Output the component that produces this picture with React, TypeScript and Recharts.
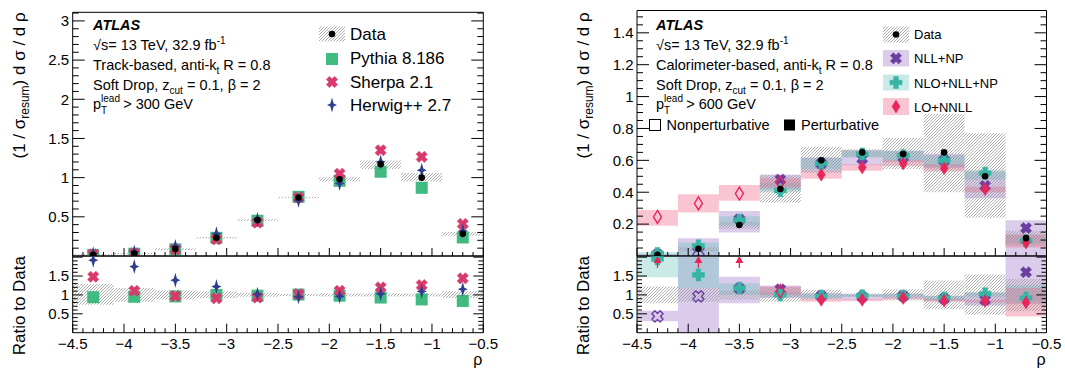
import React from "react"
import { ComposedChart, Scatter, XAxis, YAxis, ReferenceArea } from "recharts"

const FONT = "'Liberation Sans', Arial, Helvetica, sans-serif"

// rho bins
const binCenters = [-4.3, -3.9, -3.5, -3.1, -2.7, -2.3, -1.9, -1.5, -1.1, -0.7]
const binHalf = 0.2

// ---- left panel: track-based, pT > 300 GeV
const trackData = [0.015, 0.03, 0.088, 0.232, 0.458, 0.747, 0.98, 1.17, 1.0, 0.283]
const trackDataLo = [0.005, 0.022, 0.078, 0.222, 0.448, 0.737, 0.955, 1.11, 0.95, 0.26]
const trackDataHi = [0.025, 0.038, 0.098, 0.242, 0.468, 0.757, 1.005, 1.22, 1.06, 0.305]
const pythiaMain = [0.014, 0.029, 0.085, 0.232, 0.45, 0.755, 0.96, 1.075, 0.87, 0.237]
const sherpaMain = [0.022, 0.034, 0.085, 0.212, 0.425, 0.747, 1.05, 1.35, 1.265, 0.41]
const herwigMain = [0.028, 0.052, 0.122, 0.283, 0.467, 0.71, 0.925, 1.2, 1.095, 0.32]
const trackRatioLo = [0.74, 0.82, 0.88, 0.91, 0.95, 0.97, 0.96, 0.96, 0.96, 0.92]
const trackRatioHi = [1.29, 1.18, 1.12, 1.1, 1.06, 1.03, 1.04, 1.04, 1.04, 1.1]
const pythiaRatio = [0.94, 0.95, 0.96, 1.0, 0.98, 1.01, 0.98, 0.93, 0.88, 0.84]
const sherpaRatio = [1.48, 1.11, 0.97, 0.91, 0.93, 1.02, 1.11, 1.2, 1.26, 1.44]
const herwigRatio = [1.92, 1.75, 1.39, 1.22, 1.02, 0.95, 0.96, 1.03, 1.09, 1.15]

// ---- right panel: calorimeter-based, pT > 600 GeV
const caloData = [0.008, 0.045, 0.194, 0.42, 0.6, 0.65, 0.64, 0.65, 0.5, 0.112]
const caloDataLo = [0.004, 0.03, 0.17, 0.335, 0.52, 0.62, 0.545, 0.4, 0.24, 0.064]
const caloDataHi = [0.012, 0.055, 0.215, 0.51, 0.685, 0.67, 0.74, 0.89, 0.77, 0.158]
const nllMain = [0.006, 0.028, 0.23, 0.48, 0.58, 0.61, 0.62, 0.6, 0.44, 0.175]
const nllLo = [0, 0, 0.147, 0.415, 0.53, 0.57, 0.59, 0.55, 0.363, 0]
const nllHi = [0.012, 0.112, 0.283, 0.51, 0.62, 0.665, 0.66, 0.64, 0.53, 0.225]
const nloMain = [0.016, 0.064, 0.225, 0.41, 0.58, 0.64, 0.63, 0.6, 0.52, 0.095]
const nloLo = [0.005, 0, 0.19, 0.4, 0.545, 0.62, 0.6, 0.56, 0.48, 0.08]
const nloHi = [0.025, 0.085, 0.25, 0.46, 0.615, 0.66, 0.66, 0.63, 0.54, 0.13]
const nnllMain = [0.245, 0.33, 0.392, 0.46, 0.51, 0.555, 0.58, 0.55, 0.42, 0.085]
const nnllLo = [0.19, 0.273, 0.346, 0.43, 0.485, 0.535, 0.565, 0.53, 0.4, 0.053]
const nnllHi = [0.288, 0.388, 0.446, 0.49, 0.535, 0.575, 0.6, 0.575, 0.434, 0.137]
const nllOpen = [true, true, false, false, false, false, false, false, false, false]
const nnllOpen = [true, true, true, true, false, false, false, false, false, false]

const caloRatioLo = [0.78, 0.82, 0.88, 0.82, 0.87, 0.95, 0.85, 0.62, 0.48, 0.57]
const caloRatioHi = [1.22, 1.18, 1.12, 1.2, 1.14, 1.04, 1.15, 1.38, 1.54, 1.42]
const nllRatio = [0.43, 0.96, 1.17, 1.15, 0.97, 0.95, 0.97, 0.9, 0.87, 1.6]
const nllRatioLo = [0.3, 0, 0.78, 0.92, 0.9, 0.88, 0.92, 0.85, 0.72, 0.75]
const nllRatioHi = [0.58, 2.03, 1.48, 1.25, 1.05, 1.02, 1.04, 0.98, 1.06, 2.03]
const nloRatio = [1.95, 1.53, 1.18, 1.0, 0.97, 0.98, 0.97, 0.92, 1.03, 0.92]
const nloRatioLo = [1.47, 1.18, 1.0, 0.95, 0.92, 0.95, 0.95, 0.86, 0.96, 0.8]
const nloRatioHi = [2.03, 2.03, 1.31, 1.08, 1.02, 1.02, 1.03, 0.97, 1.08, 1.25]
const nnllRatio = [1.9, 1.9, 1.9, 1.1, 0.87, 0.87, 0.92, 0.85, 0.84, 0.8]
const nnllRatioOff = [true, true, true, false, false, false, false, false, false, false]
const nnllRatioLo = [null, null, null, 1.0, 0.82, 0.83, 0.88, 0.82, 0.8, 0.43]
const nnllRatioHi = [null, null, null, 1.22, 0.9, 0.89, 0.94, 0.89, 0.87, 1.18]

const C = {
  green: "#3fbb82",
  sherpa: "#d83b6b",
  herwig: "#2e3d8f",
  purple: "#6b3fa0",
  teal: "#36b5a5",
  pink: "#e8265a",
  purpleBand: "rgba(150,110,195,0.35)",
  tealBand: "rgba(90,190,185,0.32)",
  pinkBand: "rgba(240,110,145,0.4)",
}

const range = (a: number, b: number, step: number) => {
  const n = Math.round((b - a) / step)
  return Array.from({ length: n + 1 }, (_, i) => +(a + i * step).toFixed(4))
}
const xTicks = range(-4.5, -0.5, 0.1)
const xLabels = range(-4.5, -0.5, 0.5)
const leftYTicks = range(0.1, 3.1, 0.1)
const leftYLabels = [0.5, 1, 1.5, 2, 2.5, 3]
const rightYTicks = range(0.05, 1.5, 0.05)
const rightYLabels = [0.2, 0.4, 0.6, 0.8, 1, 1.2, 1.4]
const ratioYTicks = range(0.1, 2.0, 0.1)
const ratioYLabels = [0.5, 1, 1.5]

const fmt = (v: number) => String(+v.toFixed(2)).replace("-", "\u2212")

function makeTick(side: string, major: number, majorLen: number, minorLen: number, labels: number[] | null) {
  return (p: any) => {
    const v = p.payload.value
    const x = p.x
    const y = p.y
    const isMajor = Math.abs(v / major - Math.round(v / major)) < 1e-6
    const len = isMajor ? majorLen : minorLen
    let x2 = x
    let y2 = y
    if (side === "left") x2 = x + len
    if (side === "right") x2 = x - len
    if (side === "bottom") y2 = y - len
    if (side === "top") y2 = y + len
    const show = labels && labels.some((l) => Math.abs(l - v) < 1e-6)
    return (
      <g>
        <line x1={x} y1={y} x2={x2} y2={y2} stroke="#000" strokeWidth={1} />
        {show && side === "left" && (
          <text x={x - 3.5} y={y + 5.3} textAnchor="end" fontSize={15} fontFamily={FONT} fill="#000">
            {fmt(v)}
          </text>
        )}
        {show && side === "bottom" && (
          <text x={x} y={y + 16} textAnchor="middle" fontSize={15} fontFamily={FONT} fill="#000">
            {fmt(v)}
          </text>
        )}
      </g>
    )
  }
}

function frameAxes(o: {
  yDomain: number[]
  yTicks: number[]
  yMajor: number
  yLen: number[]
  yLabels: number[]
  xLen: number[]
  xShow: boolean
}) {
  const common = { tickSize: 0, tickMargin: 0, tickLine: false, interval: 0 as const, allowDataOverflow: true, axisLine: { stroke: "#000", strokeWidth: 1 } }
  return [
    <XAxis key="xb" xAxisId={0} type="number" dataKey="x" domain={[-4.5, -0.5]} ticks={xTicks} height={1} {...common} tick={makeTick("bottom", 0.5, o.xLen[0], o.xLen[1], o.xShow ? xLabels : null)} />,
    <XAxis key="xt" xAxisId="top" orientation="top" type="number" domain={[-4.5, -0.5]} ticks={xTicks} height={1} {...common} tick={makeTick("top", 0.5, o.xLen[0], o.xLen[1], null)} />,
    <YAxis key="yl" yAxisId={0} type="number" dataKey="y" domain={o.yDomain} ticks={o.yTicks} width={1} {...common} tick={makeTick("left", o.yMajor, o.yLen[0], o.yLen[1], o.yLabels)} />,
    <YAxis key="yr" yAxisId="right" orientation="right" type="number" domain={o.yDomain} ticks={o.yTicks} width={1} {...common} tick={makeTick("right", o.yMajor, o.yLen[0], o.yLen[1], null)} />,
  ]
}

function xPoly(cx: number, cy: number, L: number, a: number, rot: boolean) {
  const base = [[a, L], [a, a], [L, a], [L, -a], [a, -a], [a, -L], [-a, -L], [-a, -a], [-L, -a], [-L, a], [-a, a], [-a, L]]
  const c = Math.SQRT1_2
  return base
    .map(([px, py]) => (rot ? [(px - py) * c, (px + py) * c] : [px, py]))
    .map(([px, py]) => `${cx + px},${cy + py}`)
    .join(" ")
}

function Marker({ kind, cx, cy, color, open }: { kind: string; cx: number; cy: number; color: string; open?: boolean }) {
  if (cx == null || cy == null) return null
  switch (kind) {
    case "dot":
      return <circle cx={cx} cy={cy} r={3.3} fill="#000" />
    case "square":
      return <rect x={cx - 6} y={cy - 6} width={12} height={12} fill={color} />
    case "x":
      return <polygon points={xPoly(cx, cy, 5.8, 2.1, true)} fill={open ? "none" : color} stroke={color} strokeWidth={open ? 1.4 : 0.6} strokeLinejoin="round" />
    case "plus":
      return <polygon points={xPoly(cx, cy, 6, 2.3, false)} fill={color} stroke={color} strokeWidth={0.6} strokeLinejoin="round" />
    case "star4":
      return (
        <polygon
          points={[[0, -7.5], [1.6, -1.6], [5, 0], [1.6, 1.6], [0, 7.5], [-1.6, 1.6], [-5, 0], [-1.6, -1.6]].map(([px, py]) => `${cx + px},${cy + py}`).join(" ")}
          fill={color}
        />
      )
    case "diamond":
      return (
        <polygon
          points={`${cx},${cy - 6.5} ${cx + 4},${cy} ${cx},${cy + 6.5} ${cx - 4},${cy}`}
          fill={open ? "none" : color}
          stroke={color}
          strokeWidth={open ? 1.4 : 0.5}
        />
      )
    case "arrow":
      return (
        <g>
          <line x1={cx} y1={cy} x2={cx} y2={cy + 7} stroke={color} strokeWidth={1.3} />
          <polygon points={`${cx},${cy - 5} ${cx + 4},${cy + 2} ${cx - 4},${cy + 2}`} fill={color} />
        </g>
      )
  }
  return null
}

const rows = (vals: number[], open?: boolean[], off?: boolean[]) =>
  binCenters.map((x, i) => ({ x, y: vals[i], open: open ? open[i] : false, off: off ? off[i] : false }))

function series(vals: number[], kind: string, color: string, open?: boolean[], off?: boolean[]) {
  return (
    <Scatter
      key={kind + color + vals[0]}
      data={rows(vals, open, off)}
      isAnimationActive={false}
      shape={(p: any) => <Marker kind={p.payload.off ? "arrow" : kind} cx={p.cx} cy={p.cy} color={color} open={p.payload.open} />}
    />
  )
}

function bands(lo: (number | null)[], hi: (number | null)[], fill: string, tag: string) {
  return binCenters.map((c, i) =>
    lo[i] == null || hi[i] == null ? null : (
      <ReferenceArea key={tag + i} x1={c - binHalf} x2={c + binHalf} y1={lo[i] as number} y2={hi[i] as number} fill={fill} fillOpacity={1} stroke="none" ifOverflow="hidden" />
    )
  )
}

// geometry (page pixels)
const L = { left: 72.7, right: 483.3, top: 12.3 }
const R = { left: 637, right: 1046.5, top: 10.5 }
const SPLIT = 256
const RATIO_H = 76.7
const RATIO_SVG_H = 114

export default function App() {
  // axes take 1px each, so margins leave room for them
  const mainL = { top: L.top - 1, left: L.left - 1, right: 505 - L.right - 1, bottom: 0 }
  const ratioL = { top: 0, left: L.left - 1, right: 505 - L.right - 1, bottom: RATIO_SVG_H - 1 - RATIO_H - 1 }
  const mainR = { top: R.top - 1, left: R.left - 530 - 1, right: 535 - (R.right - 530) - 1, bottom: 0 }
  const ratioR = { top: 0, left: R.left - 530 - 1, right: 535 - (R.right - 530) - 1, bottom: RATIO_SVG_H - 1 - RATIO_H - 1 }
  const txt = { fontFamily: FONT, fill: "#000" }

  return (
    <div style={{ position: "absolute", left: 0, top: 0, width: 1065, height: 369, background: "#fff", fontFamily: FONT }}>
      {/* left main */}
      <div style={{ position: "absolute", left: 0, top: 0 }}>
        <ComposedChart width={505} height={SPLIT + 1} margin={mainL}>
          {frameAxes({ yDomain: [0, 3.11], yTicks: leftYTicks, yMajor: 0.5, yLen: [12, 6], yLabels: leftYLabels, xLen: [8, 4], xShow: false })}
          {bands(trackDataLo, trackDataHi, "url(#hatch)", "ld")}
          {series(pythiaMain, "square", C.green)}
          {series(sherpaMain, "x", C.sherpa)}
          {series(herwigMain, "star4", C.herwig)}
          {series(trackData, "dot", "#000")}
        </ComposedChart>
      </div>
      {/* left ratio */}
      <div style={{ position: "absolute", left: 0, top: SPLIT - 1 }}>
        <ComposedChart width={505} height={RATIO_SVG_H} margin={ratioL}>
          {frameAxes({ yDomain: [0, 2.03], yTicks: ratioYTicks, yMajor: 0.5, yLen: [10, 5], yLabels: ratioYLabels, xLen: [9, 4.5], xShow: true })}
          {bands(trackRatioLo, trackRatioHi, "url(#hatch)", "lr")}
          {series(pythiaRatio, "square", C.green)}
          {series(sherpaRatio, "x", C.sherpa)}
          {series(herwigRatio, "star4", C.herwig)}
        </ComposedChart>
      </div>
      {/* right main */}
      <div style={{ position: "absolute", left: 530, top: 0 }}>
        <ComposedChart width={535} height={SPLIT + 1} margin={mainR}>
          {frameAxes({ yDomain: [0, 1.54], yTicks: rightYTicks, yMajor: 0.2, yLen: [12, 6], yLabels: rightYLabels, xLen: [8, 4], xShow: false })}
          {bands(nllLo, nllHi, C.purpleBand, "rp")}
          {bands(nloLo, nloHi, C.tealBand, "rt")}
          {bands(nnllLo, nnllHi, C.pinkBand, "rk")}
          {bands(caloDataLo, caloDataHi, "url(#hatch)", "rd")}
          {series(nllMain, "x", C.purple, nllOpen)}
          {series(nloMain, "plus", C.teal)}
          {series(nnllMain, "diamond", C.pink, nnllOpen)}
          {series(caloData, "dot", "#000")}
        </ComposedChart>
      </div>
      {/* right ratio */}
      <div style={{ position: "absolute", left: 530, top: SPLIT - 1 }}>
        <ComposedChart width={535} height={RATIO_SVG_H} margin={ratioR}>
          {frameAxes({ yDomain: [0, 2.03], yTicks: ratioYTicks, yMajor: 0.5, yLen: [10, 5], yLabels: ratioYLabels, xLen: [9, 4.5], xShow: true })}
          {bands(nllRatioLo, nllRatioHi, C.purpleBand, "qp")}
          {bands(nloRatioLo, nloRatioHi, C.tealBand, "qt")}
          {bands(nnllRatioLo, nnllRatioHi, C.pinkBand, "qk")}
          {bands(caloRatioLo, caloRatioHi, "url(#hatch)", "qd")}
          {series(nllRatio, "x", C.purple, nllOpen)}
          {series(nloRatio, "plus", C.teal)}
          {series(nnllRatio, "diamond", C.pink, nnllOpen, nnllRatioOff)}
        </ComposedChart>
      </div>

      {/* labels, legends */}
      <svg width={1065} height={369} style={{ position: "absolute", left: 0, top: 0, pointerEvents: "none" }}>
        <defs>
          <pattern id="hatch" width={3} height={3} patternUnits="userSpaceOnUse">
            <path d="M-1,1 L1,-1 M0,3 L3,0 M2,4 L4,2" stroke="#999" strokeWidth={0.8} />
          </pattern>
        </defs>

        {/* axis titles */}
        <text transform={`translate(24.5,${L.top}) rotate(-90)`} textAnchor="end" fontSize={17} {...txt}>
          (1 / σ<tspan dy={4} fontSize={12}>resum</tspan><tspan dy={-4}>) d σ / d ρ</tspan>
        </text>
        <text transform={`translate(24.5,${SPLIT}) rotate(-90)`} textAnchor="end" fontSize={17} {...txt}>Ratio to Data</text>
        <text x={L.right - 1} y={365} textAnchor="end" fontSize={16} {...txt}>ρ</text>
        <text transform={`translate(588.5,${L.top}) rotate(-90)`} textAnchor="end" fontSize={17} {...txt}>
          (1 / σ<tspan dy={4} fontSize={12}>resum</tspan><tspan dy={-4}>) d σ / d ρ</tspan>
        </text>
        <text transform={`translate(588.5,${SPLIT}) rotate(-90)`} textAnchor="end" fontSize={17} {...txt}>Ratio to Data</text>
        <text x={R.right - 1} y={365} textAnchor="end" fontSize={16} {...txt}>ρ</text>

        {/* left annotations */}
        <text x={93} y={30} fontSize={14.5} fontWeight="bold" fontStyle="italic" {...txt}>ATLAS</text>
        <text x={93} y={50} fontSize={14.5} {...txt}>√s= 13 TeV, 32.9 fb<tspan dy={-6} fontSize={10}>-1</tspan></text>
        <text x={93} y={70} fontSize={14.5} {...txt}>Track-based, anti-k<tspan dy={4} fontSize={10}>t</tspan><tspan dy={-4}> R = 0.8</tspan></text>
        <text x={93} y={90} fontSize={14.5} {...txt}>Soft Drop, z<tspan dy={4} fontSize={10}>cut</tspan><tspan dy={-4}> = 0.1, β = 2</tspan></text>
        <text x={93} y={109} fontSize={14.5} {...txt}>p<tspan dy={-7} fontSize={10}>lead</tspan><tspan dx={-18.9} dy={12} fontSize={10}>T</tspan><tspan dx={16} dy={-5}>&gt; 300 GeV</tspan></text>

        {/* left legend */}
        <rect x={319} y={26.5} width={26} height={15} fill="url(#hatch)" />
        <Marker kind="dot" cx={332} cy={34} color="#000" />
        <text x={350} y={39.5} fontSize={17} {...txt}>Data</text>
        <Marker kind="square" cx={332} cy={59} color={C.green} />
        <text x={350} y={64} fontSize={17} {...txt}>Pythia 8.186</text>
        <Marker kind="x" cx={332} cy={82} color={C.sherpa} />
        <text x={350} y={87.5} fontSize={17} {...txt}>Sherpa 2.1</text>
        <Marker kind="star4" cx={332} cy={105} color={C.herwig} />
        <text x={350} y={110.5} fontSize={17} {...txt}>Herwig++ 2.7</text>

        {/* right annotations */}
        <text x={656} y={30} fontSize={14.5} fontWeight="bold" fontStyle="italic" {...txt}>ATLAS</text>
        <text x={656} y={50} fontSize={14.5} {...txt}>√s= 13 TeV, 32.9 fb<tspan dy={-6} fontSize={10}>-1</tspan></text>
        <text x={656} y={70} fontSize={14.5} {...txt}>Calorimeter-based, anti-k<tspan dy={4} fontSize={10}>t</tspan><tspan dy={-4}> R = 0.8</tspan></text>
        <text x={656} y={90} fontSize={14.5} {...txt}>Soft Drop, z<tspan dy={4} fontSize={10}>cut</tspan><tspan dy={-4}> = 0.1, β = 2</tspan></text>
        <text x={656} y={109} fontSize={14.5} {...txt}>p<tspan dy={-7} fontSize={10}>lead</tspan><tspan dx={-18.9} dy={12} fontSize={10}>T</tspan><tspan dx={16} dy={-5}>&gt; 600 GeV</tspan></text>
        <rect x={649.5} y={119.5} width={11} height={11} fill="none" stroke="#000" strokeWidth={1} />
        <text x={666.5} y={129.5} fontSize={14.5} {...txt}>Nonperturbative</text>
        <rect x={784} y={119.5} width={11} height={11} fill="#000" />
        <text x={801} y={129.5} fontSize={14.5} {...txt}>Perturbative</text>

        {/* right legend */}
        <rect x={883} y={26.5} width={26} height={16} fill="url(#hatch)" />
        <Marker kind="dot" cx={896} cy={34.5} color="#000" />
        <text x={914} y={39} fontSize={13} {...txt}>Data</text>
        <rect x={883} y={50} width={26} height={16.5} fill={C.purpleBand} />
        <Marker kind="x" cx={896} cy={58.3} color={C.purple} />
        <text x={914} y={63} fontSize={13} {...txt}>NLL+NP</text>
        <rect x={883} y={74.5} width={26} height={16} fill={C.tealBand} />
        <Marker kind="plus" cx={896} cy={82.5} color={C.teal} />
        <text x={914} y={87.5} fontSize={13} {...txt}>NLO+NLL+NP</text>
        <rect x={883} y={98} width={26} height={17} fill={C.pinkBand} />
        <Marker kind="diamond" cx={896} cy={106.5} color={C.pink} />
        <text x={914} y={111.5} fontSize={13} {...txt}>LO+NNLL</text>
      </svg>
    </div>
  )
}
